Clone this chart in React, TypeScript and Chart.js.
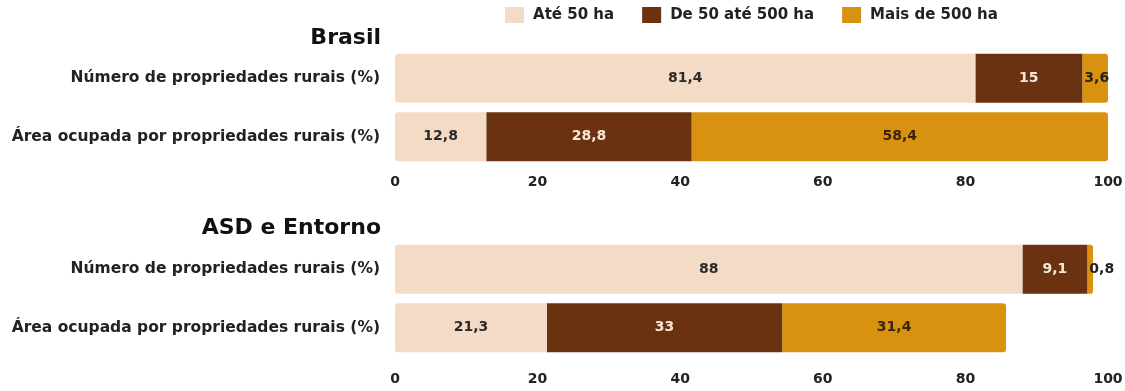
import React, { useEffect, useRef } from 'react';
import { Chart, registerables } from 'chart.js';

Chart.register(...registerables);

const categories = ['Número de propriedades rurais (%)', 'Área ocupada por propriedades rurais (%)'];
const seriesNames = ['Até 50 ha', 'De 50 até 500 ha', 'Mais de 500 ha'];
const brasilAte50 = [81.4, 12.8];
const brasilDe50a500 = [15, 28.8];
const brasilMais500 = [3.6, 58.4];
const asdAte50 = [88, 21.3];
const asdDe50a500 = [9.1, 33];
const asdMais500 = [0.8, 31.4];
const xTickValues = [0, 20, 40, 60, 80, 100];
const panelTitles = ['Brasil', 'ASD e Entorno'];

const colors = ['#F3DBC6', '#6A3210', '#D9920F'];
const labelColors = ['#2a2a2a', '#F6E8DA', '#3a2410'];
const FONT = "'DejaVu Sans', sans-serif";

type Panel = {
  series: number[][];
  title: string;
  showLegend: boolean;
  height: number;
  padTop: number;
  xHeight: number;
  xPad: number;
  titleY: number;
  legendY: number;
};

const fmt = (v: number) => String(v).replace('.', ',');

function makePlugin(p: Panel) {
  return {
    id: 'overlay',
    afterDatasetsDraw(chart: any) {
      const ctx = chart.ctx;
      chart.data.datasets.forEach((ds: any, di: number) => {
        const meta = chart.getDatasetMeta(di);
        meta.data.forEach((el: any, i: number) => {
          const v = ds.data[i];
          const { x, y, base } = el.getProps(['x', 'y', 'base'], true);
          const left = Math.min(x, base);
          const right = Math.max(x, base);
          const text = fmt(v);
          ctx.save();
          ctx.font = `bold 14px ${FONT}`;
          ctx.textBaseline = 'middle';
          const tw = ctx.measureText(text).width;
          if (tw + 4 > right - left) {
            ctx.textAlign = 'left';
            ctx.fillStyle = '#222';
            ctx.fillText(text, left + 2, y);
          } else {
            ctx.textAlign = 'center';
            ctx.fillStyle = labelColors[di];
            ctx.fillText(text, (left + right) / 2, y);
          }
          ctx.restore();
        });
      });
    },
    afterDraw(chart: any) {
      const ctx = chart.ctx;
      const area = chart.chartArea;
      ctx.save();
      ctx.font = `bold 22px ${FONT}`;
      ctx.fillStyle = '#111';
      ctx.textAlign = 'right';
      ctx.textBaseline = 'middle';
      ctx.fillText(p.title, area.left - 14, p.titleY);
      if (p.showLegend) {
        ctx.font = `bold 15px ${FONT}`;
        const boxW = 19, boxH = 16, gapBT = 9, gapItem = 28;
        const widths = seriesNames.map((s) => ctx.measureText(s).width);
        const total = widths.reduce((a, w) => a + boxW + gapBT + w, 0) + gapItem * (seriesNames.length - 1);
        let cx = (area.left + area.right) / 2 - total / 2;
        ctx.textAlign = 'left';
        seriesNames.forEach((s, i) => {
          ctx.fillStyle = colors[i];
          ctx.fillRect(cx, p.legendY - boxH / 2, boxW, boxH);
          ctx.fillStyle = '#222';
          ctx.fillText(s, cx + boxW + gapBT, p.legendY);
          cx += boxW + gapBT + widths[i] + gapItem;
        });
      }
      ctx.restore();
    },
  };
}

function ChartPanel({ p }: { p: Panel }) {
  const ref = useRef<HTMLCanvasElement | null>(null);
  useEffect(() => {
    if (!ref.current) return;
    const chart = new Chart(ref.current, {
      type: 'bar',
      data: {
        labels: categories,
        datasets: p.series.map((data, i) => ({
          label: seriesNames[i],
          data,
          backgroundColor: colors[i],
          borderWidth: 0,
          borderSkipped: false,
          borderRadius:
            i === 0
              ? { topLeft: 3, bottomLeft: 3, topRight: 0, bottomRight: 0 }
              : i === 2
              ? { topLeft: 0, bottomLeft: 0, topRight: 3, bottomRight: 3 }
              : 0,
          barPercentage: 0.84,
          categoryPercentage: 1,
        })),
      },
      options: {
        indexAxis: 'y',
        responsive: false,
        maintainAspectRatio: false,
        animation: false,
        layout: { padding: { top: p.padTop, bottom: 0, left: 0, right: 17 } },
        plugins: { legend: { display: false }, tooltip: { enabled: false }, title: { display: false } },
        scales: {
          x: {
            stacked: true,
            min: 0,
            max: 100,
            afterBuildTicks: (s: any) => {
              s.ticks = xTickValues.map((v) => ({ value: v }));
            },
            afterFit: (s: any) => {
              s.height = p.xHeight;
              s.paddingLeft = 0;
              s.paddingRight = 0;
            },
            grid: { display: false, drawTicks: false },
            border: { display: false },
            ticks: {
              padding: p.xPad,
              font: { family: FONT, size: 14, weight: 'bold' },
              color: '#222',
              maxRotation: 0,
              autoSkip: false,
            },
          },
          y: {
            stacked: true,
            grid: { display: false, drawTicks: false },
            border: { display: false },
            ticks: { padding: 15, font: { family: FONT, size: 15.5, weight: 'bold' }, color: '#222' },
            afterFit: (s: any) => {
              s.width = 395;
            },
          },
        },
      } as any,
      plugins: [makePlugin(p)],
    });
    return () => chart.destroy();
  }, [p]);
  return <canvas ref={ref} width={1125} height={p.height} style={{ display: 'block' }} />;
}

const panels: Panel[] = [
  {
    series: [brasilAte50, brasilDe50a500, brasilMais500],
    title: panelTitles[0],
    showLegend: true,
    height: 195,
    padTop: 49,
    xHeight: 29,
    xPad: 8,
    titleY: 38,
    legendY: 15,
  },
  {
    series: [asdAte50, asdDe50a500, asdMais500],
    title: panelTitles[1],
    showLegend: false,
    height: 196,
    padTop: 45,
    xHeight: 34,
    xPad: 14,
    titleY: 33,
    legendY: 0,
  },
];

export default function App() {
  return (
    <div style={{ position: 'absolute', left: 0, top: 0, width: 1125, height: 391, background: '#fff' }}>
      {panels.map((p, i) => (
        <ChartPanel key={i} p={p} />
      ))}
    </div>
  );
}
